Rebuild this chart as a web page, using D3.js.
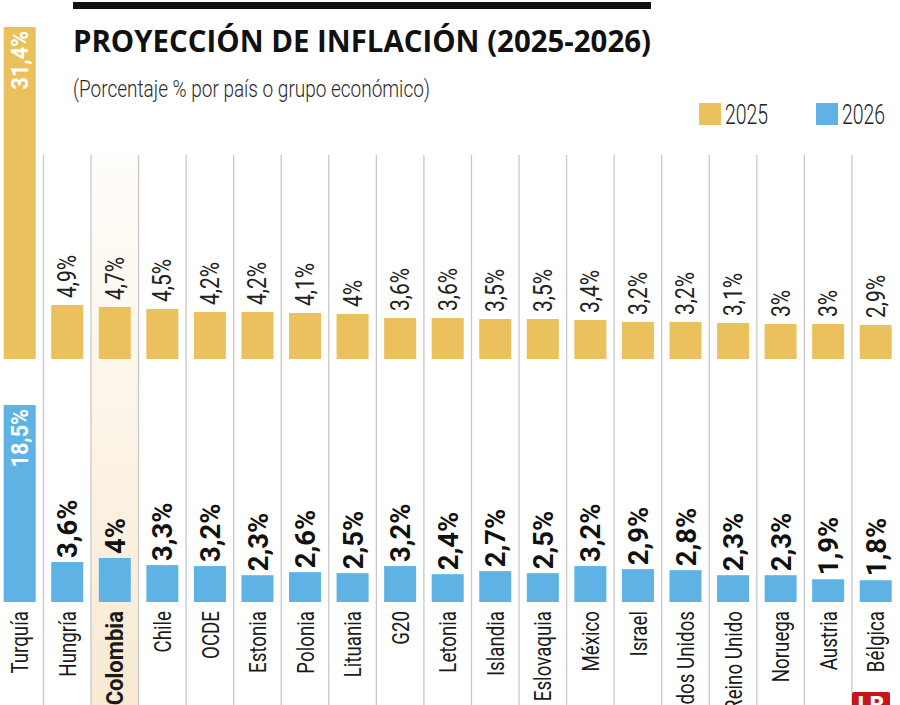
<!DOCTYPE html>
<html><head><meta charset="utf-8">
<script src="https://cdn.jsdelivr.net/npm/d3@7"></script>
<style>body{margin:0;background:#fff;} svg{display:block;}</style>
</head><body>
<script>
const categories = ["Turquía","Hungría","Colombia","Chile","OCDE","Estonia","Polonia","Lituania","G20","Letonia","Islandia","Eslovaquia","México","Israel","Estados Unidos","Reino Unido","Noruega","Austria","Bélgica"];
const values2025 = [31.4,4.9,4.7,4.5,4.2,4.2,4.1,4,3.6,3.6,3.5,3.5,3.4,3.2,3.2,3.1,3,3,2.9];
const values2026 = [18.5,3.6,4,3.3,3.2,2.3,2.6,2.5,3.2,2.4,2.7,2.5,3.2,2.9,2.8,2.3,2.3,1.9,1.8];
const seriesNames = ["2025","2026"];
const highlight = "Colombia";
const titleText = "PROYECCIÓN DE INFLACIÓN (2025-2026)";
const subtitleText = "(Porcentaje % por país o grupo económico)";

const W = 900, H = 705;
const C25 = "#ebc15d", C26 = "#5eb3e4";
const fmt = v => String(v).replace(".", ",") + "%";

const svg = d3.select("body").append("svg").attr("width", W).attr("height", H);

const defs = svg.append("defs");
const grad = defs.append("linearGradient").attr("id","hl").attr("x1",0).attr("y1",0).attr("x2",0).attr("y2",1);
grad.append("stop").attr("offset","0%").attr("stop-color","#fffdfa");
grad.append("stop").attr("offset","100%").attr("stop-color","#f8ead3");

const x = d3.scaleBand().domain(categories).range([-4.1, 899.5]).paddingInner(0.327).paddingOuter(0.1635);
const y25 = d3.scaleLinear().domain([-0.5, 5, 31.4]).range([359, 304, 27]);
const y26 = d3.scaleLinear().domain([-0.35, 4, 18.5]).range([602, 558, 405]);
const base25 = y25(y25.domain()[0]), base26 = y26(y26.domain()[0]);
const gap = (x.step() - x.bandwidth()) / 2;

// highlight column
svg.append("rect").attr("x", x(highlight) - gap).attr("y", 155)
  .attr("width", x.step()).attr("height", H - 155).attr("fill", "url(#hl)");

// separators
svg.append("g").selectAll("line").data(categories.slice(1)).join("line")
  .attr("x1", d => x(d) - gap).attr("x2", d => x(d) - gap)
  .attr("y1", 155).attr("y2", H)
  .attr("stroke", "#c9c9c9").attr("stroke-width", 1.3);

// title
svg.append("rect").attr("x", 73).attr("y", 2).attr("width", 578).attr("height", 7).attr("fill", "#111");
svg.append("text").attr("x", 73).attr("y", 52).text(titleText)
  .attr("font-family", "'Open Sans', sans-serif").attr("font-weight", 700).attr("font-size", 31)
  .attr("textLength", 578).attr("lengthAdjust", "spacingAndGlyphs").attr("fill", "#111");
svg.append("text").attr("x", 73).attr("y", 97).text(subtitleText)
  .attr("font-family", "Roboto, sans-serif").attr("font-weight", 300).attr("font-size", 24)
  .attr("textLength", 357).attr("lengthAdjust", "spacingAndGlyphs").attr("fill", "#2a2a2a");

// legend
const lg = svg.append("g");
const legendX = [699, 816];
seriesNames.forEach((s, i) => {
  lg.append("rect").attr("x", legendX[i]).attr("y", 103).attr("width", 22).attr("height", 22).attr("fill", i ? C26 : C25);
  lg.append("text").attr("x", legendX[i] + 26).attr("y", 124).text(s)
    .attr("font-family", "Roboto, sans-serif").attr("font-weight", 300).attr("font-size", 27)
    .attr("transform", `translate(${legendX[i] + 26},124) scale(0.72,1) translate(${-(legendX[i] + 26)},-124)`)
    .attr("fill", "#222");
});

const maxIdx25 = d3.maxIndex(values2025), maxIdx26 = d3.maxIndex(values2026);

// 2025 bars
svg.append("g").selectAll("rect").data(values2025).join("rect")
  .attr("x", (d, i) => x(categories[i])).attr("width", x.bandwidth())
  .attr("y", d => y25(d)).attr("height", d => base25 - y25(d)).attr("fill", C25);
// 2026 bars
svg.append("g").selectAll("rect").data(values2026).join("rect")
  .attr("x", (d, i) => x(categories[i])).attr("width", x.bandwidth())
  .attr("y", d => y26(d)).attr("height", d => base26 - y26(d)).attr("fill", C26);

function vlabel(g, vals, ys, maxIdx, weight, size, sx, gapAbove, color) {
  g.selectAll("text").data(vals).join("text")
    .attr("transform", (d, i) => {
      const cx = x(categories[i]) + x.bandwidth() / 2;
      const inside = i === maxIdx;
      const yy = inside ? ys(d) + 4 : ys(d) - gapAbove;
      return `translate(${cx},${yy}) rotate(-90) scale(${inside ? 0.9 : sx},1)`;
    })
    .attr("dy", "0.36em")
    .attr("text-anchor", (d, i) => i === maxIdx ? "end" : "start")
    .attr("font-family", "Roboto, sans-serif")
    .attr("font-weight", (d, i) => i === maxIdx ? 700 : weight)
    .attr("font-size", (d, i) => i === maxIdx ? 24 : size)
    .attr("fill", (d, i) => i === maxIdx ? "#fff" : color)
    .text(d => fmt(d));
}
vlabel(svg.append("g"), values2025, y25, maxIdx25, 400, 25, 0.84, 7, "#222");
vlabel(svg.append("g"), values2026, y26, maxIdx26, 700, 28, 0.98, 4, "#111");

// category labels
svg.append("g").selectAll("text").data(categories).join("text")
  .attr("transform", d => `translate(${x(d) + x.bandwidth() / 2},611) rotate(-90) scale(${d === highlight ? 0.92 : 0.78},1)`)
  .attr("dy", "0.36em")
  .attr("text-anchor", "end")
  .attr("font-family", "Roboto, sans-serif")
  .attr("font-weight", d => d === highlight ? 700 : 400)
  .attr("font-size", 24)
  .attr("fill", "#1a1a1a")
  .text(d => d);

// logo
svg.append("rect").attr("x", 852).attr("y", 692).attr("width", 38).attr("height", 20).attr("rx", 2).attr("fill", "#c9141c");
svg.append("text").attr("x", 871).attr("y", 712).attr("text-anchor", "middle")
  .attr("font-family", "Roboto, sans-serif").attr("font-weight", 900).attr("font-size", 22).attr("fill", "#fff").text("LR");
</script>
</body></html>
